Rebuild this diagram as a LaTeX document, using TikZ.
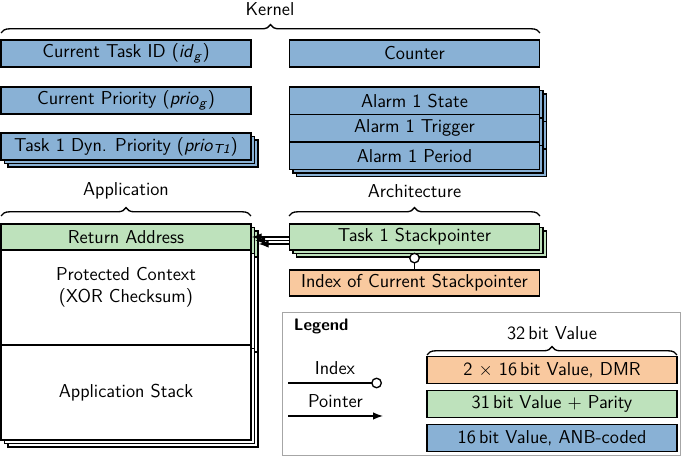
\documentclass[tikz,border=0pt]{standalone}
\usetikzlibrary{arrows.meta,shadows,decorations.pathreplacing}
\renewcommand{\familydefault}{\sfdefault}
\definecolor{anbblue}{RGB}{137,177,213}
\definecolor{paritygreen}{RGB}{190,226,188}
\definecolor{dmrorange}{RGB}{249,201,159}
\tikzset{
  field/.style={draw,thick,minimum width=150pt,minimum height=16.2pt,inner sep=0pt},
  stacked/.style={double copy shadow={shadow xshift=2.1pt,shadow yshift=-2.1pt}},
  curly/.style={decorate,decoration={brace,amplitude=5pt},thick},
}
\begin{document}
\begin{tikzpicture}[>={Latex[length=6pt,width=4.5pt]},x=0.6pt,y=-0.6pt,font=\fontsize{11.2pt}{13.5pt}\selectfont]
\useasboundingbox (0,0) rectangle (685,459);
%% kernel
\node (kernel) at (270,9) {Kernel};
\draw [curly] (1,33) -- (540,33);
\node (task_id) at (126,53.5) [field,fill=anbblue] {Current Task ID (\textit{id}\textsubscript{\textit{g}})};
\node (prio) at (126,100.5) [field,fill=anbblue] {Current Priority (\textit{prio}\textsubscript{\textit{g}})};
\node (dyn_prio) at (126,146.5) [field,fill=anbblue,stacked] {Task 1 Dyn. Priority (\textit{prio}\textsubscript{\textit{T1}})};
\node (counter) at (414.5,53.5) [field,fill=anbblue] {Counter};
\node (al_state) at (414.5,100.75) [field,fill=anbblue,stacked,minimum height=16.5pt] {Alarm 1 State};
\node (al_trig) at (414.5,128.25) [field,fill=anbblue,stacked,minimum height=16.5pt] {Alarm 1 Trigger};
\node (al_per) at (414.5,155.75) [field,fill=anbblue,stacked,minimum height=16.5pt] {Alarm 1 Period};
%% application
\node (appl) at (126,191) {Application};
\draw [curly] (1,216) -- (251,216);
\node (ret_addr) at (126,237) [field,fill=paritygreen,stacked,minimum height=15.6pt] {Return Address};
\node (context) at (126,297.5) [field,fill=white,stacked,minimum height=57pt] {};
\node (context_txt) at ([yshift=6pt]context.center) [align=center] {Protected Context\\(XOR Checksum)};
\node (app_stack) at (126,392.5) [field,fill=white,stacked,minimum height=57pt] {Application Stack};
%% architecture
\node (arch) at (414.5,191) {Architecture};
\draw [curly] (289,216) -- (540,216);
\node (stackptr) at (414.5,237) [field,fill=paritygreen,stacked,minimum height=15.6pt] {Task 1 Stackpointer};
\node (sp_index) at (414.5,283) [field,fill=dmrorange,minimum height=15.6pt] {Index of Current Stackpointer};
\draw [thick,-{Circle[length=6.5pt,fill=white]}] (sp_index.north) -- ([yshift=-1.2pt]stackptr.south);
\draw [thick,->] (stackptr.west) -- (ret_addr.east);
\draw [thick,->] ([yshift=-2.1pt]stackptr.west) -- ([xshift=2.1pt,yshift=-2.1pt]ret_addr.east);
\draw [thick,->] ([yshift=-4.2pt]stackptr.west) -- ([xshift=4.2pt,yshift=-4.2pt]ret_addr.east);
%% legend
\draw [black!35] (282,312) rectangle (680,455);
\node (legend) at (288,326) [anchor=west,font=\bfseries] {Legend};
\coordinate (idx_a) at (288,383);
\coordinate (idx_b) at (382,383);
\coordinate (ptr_a) at (288,416);
\coordinate (ptr_b) at (383,416);
\draw [thick,-{Circle[length=6.5pt,fill=white]}] (idx_a) -- (idx_b) node [midway,above=1pt] {Index};
\draw [thick,->] (ptr_a) -- (ptr_b) node [midway,above=1pt] {Pointer};
\node (width_lbl) at (552,333) {32\,bit Value};
\draw [curly] (427,355) -- (677,355);
\node (dmr) at (552,370) [field,fill=dmrorange,minimum height=15.9pt] {2 $\times$ 16\,bit Value, DMR};
\node (parity) at (552,404) [field,fill=paritygreen,minimum height=15.9pt] {31\,bit Value $+$ Parity};
\node (anb) at (552,438) [field,fill=anbblue,minimum height=15.9pt] {16\,bit Value, ANB-coded};
%
\end{tikzpicture}
\end{document}
